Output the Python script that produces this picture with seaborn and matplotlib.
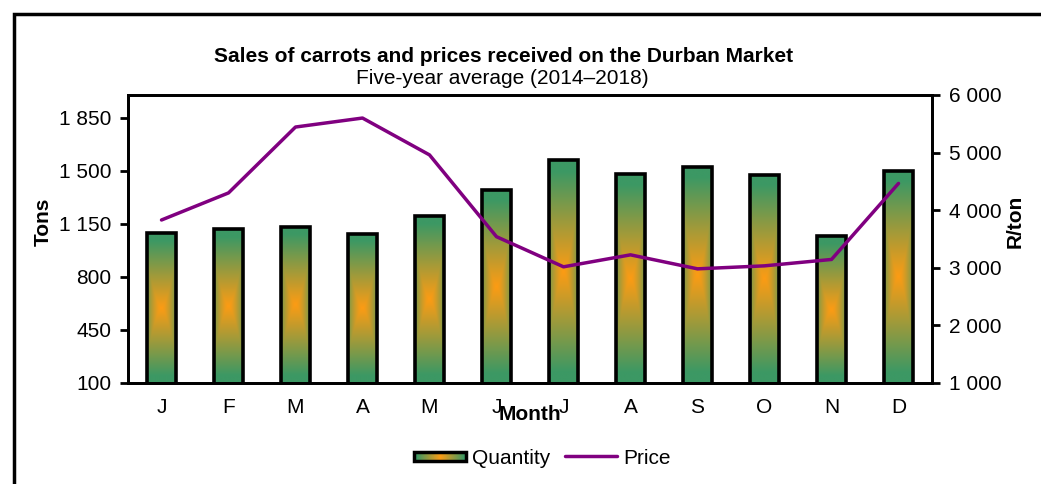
import numpy as np
import pandas as pd
import matplotlib
matplotlib.use("Agg")
import matplotlib.pyplot as plt
import seaborn as sns
from matplotlib.patches import Rectangle
from matplotlib.lines import Line2D
from matplotlib.ticker import FuncFormatter, FixedLocator
from matplotlib.legend_handler import HandlerBase
from matplotlib.image import BboxImage
from matplotlib.transforms import Bbox, TransformedBbox

# ---- data ----
months = ["J", "F", "M", "A", "M", "J", "J", "A", "S", "O", "N", "D"]
quantity = [1088, 1113, 1132, 1084, 1203, 1371, 1568, 1478, 1526, 1474, 1067, 1500]
price = [3830, 4300, 5444, 5600, 4960, 3540, 3017, 3225, 2982, 3034, 3145, 4465]
left_ticks = [100, 450, 800, 1150, 1500, 1850]
right_ticks = [1000, 2000, 3000, 4000, 5000, 6000]

title = "Sales of carrots and prices received on the Durban Market"
subtitle = "Five-year average (2014\u20132018)"

sns.set_style("white")
plt.rcParams["font.family"] = ["Liberation Sans", "DejaVu Sans"]
plt.rcParams["font.size"] = 15
for k in ["text.color", "axes.labelcolor", "xtick.color", "ytick.color"]:
    plt.rcParams[k] = "black"

FS = 15
GREEN = np.array([60, 152, 100]) / 255
ORANGE = np.array([252, 156, 20]) / 255


def bar_gradient(nx=60, ny=300):
    u = np.abs(np.linspace(-1, 1, nx))[None, :]
    v = np.abs(np.linspace(-1, 1, ny))[:, None]
    t = np.maximum(0.62 * u ** 1.5, v)
    t = np.clip(t / 0.9, 0, 1)
    return ORANGE * (1 - t[..., None]) + GREEN * t[..., None]


def legend_gradient(nx=80, ny=10):
    u = np.abs(np.linspace(-1, 1, nx))[None, :].repeat(ny, 0)
    t = np.clip(u / 0.9, 0, 1)
    return ORANGE * (1 - t[..., None]) + GREEN * t[..., None]


fig = plt.figure(figsize=(10.41, 4.84), dpi=100)
ax = fig.add_axes([128 / 1041, 1 - 383 / 484, (932 - 128) / 1041, (383 - 95) / 484])

df = pd.DataFrame({"Month": range(12), "Quantity": quantity})
sns.barplot(data=df, x="Month", y="Quantity", ax=ax, width=0.42,
            color="white", edgecolor="black", linewidth=2.6, zorder=3)

ymin, ymax = 100, 2000
grad = bar_gradient()
for p in ax.patches:
    x0, w, h = p.get_x(), p.get_width(), p.get_height()
    p.set_facecolor("none")
    im = ax.imshow(grad, extent=[x0, x0 + w, ymin, h], aspect="auto",
                   origin="lower", interpolation="bilinear", zorder=2)
    im.set_clip_path(p)

ax.set_xlim(-0.5, 11.5)
ax.set_ylim(ymin, ymax)
ax.set_yticks(left_ticks)
fmt = FuncFormatter(lambda v, p: f"{int(round(v)):,}".replace(",", " "))
ax.yaxis.set_major_formatter(fmt)
ax.set_xticks(range(12))
ax.set_xticklabels(months)
ax.xaxis.set_minor_locator(FixedLocator(np.arange(-0.5, 12, 1.0)))
ax.tick_params(axis="x", which="major", length=0, pad=11, labelsize=FS)
ax.tick_params(axis="x", which="minor", length=6, width=2, direction="out", color="black")
ax.tick_params(axis="y", which="major", length=6, width=2, direction="out", color="black",
               labelsize=FS, pad=6)
for s in ax.spines.values():
    s.set_visible(True)
    s.set_color("black")
    s.set_linewidth(2)

ax.set_xlabel("Month", fontsize=FS, fontweight="bold")
ax.xaxis.set_label_coords(0.5, -0.078)
ax.set_ylabel("Tons", fontsize=FS, fontweight="bold")
ax.yaxis.set_label_coords(-0.094, 0.56)

ax2 = ax.twinx()
sns.lineplot(x=np.arange(12), y=price, ax=ax2, color="#800080", linewidth=2.5, zorder=5)
ax2.set_ylim(1000, 6000)
ax2.set_yticks(right_ticks)
ax2.yaxis.set_major_formatter(fmt)
ax2.tick_params(axis="y", which="major", length=6, width=2, direction="out", color="black",
                labelsize=FS, pad=6)
ax2.set_ylabel("R/ton", fontsize=FS, fontweight="bold")
ax2.yaxis.set_label_coords(1.091, 0.56)
for s in ax2.spines.values():
    s.set_visible(True)
    s.set_color("black")
    s.set_linewidth(2)
ax.set_xlim(-0.5, 11.5)

fig.text(504 / 1041, 1 - 57 / 484, title, ha="center", va="center",
         fontsize=FS, fontweight="bold")
fig.text(502 / 1041, 1 - 78 / 484, subtitle, ha="center", va="center", fontsize=FS)

# outer frame
fig.add_artist(Rectangle((14 / 1041, -0.1), 1.2, 1.1 - 14 / 484, transform=fig.transFigure,
                         fill=False, edgecolor="black", linewidth=2.5))


class GradHandler(HandlerBase):
    def legend_artist(self, legend, orig_handle, fontsize, handlebox):
        x0, y0 = -handlebox.xdescent, -handlebox.ydescent
        w, h = handlebox.width, handlebox.height
        trans = handlebox.get_transform()
        hy = y0 + h * 0.2
        hh = h * 0.6
        bbox = TransformedBbox(Bbox.from_bounds(x0, hy, w, hh), trans)
        img = BboxImage(bbox, interpolation="bilinear")
        img.set_data(legend_gradient())
        handlebox.add_artist(img)
        rect = Rectangle((x0, hy), w, hh, facecolor="none", edgecolor="black",
                         linewidth=2.5, transform=trans)
        handlebox.add_artist(rect)
        return rect


qty_handle = Rectangle((0, 0), 1, 1)
price_handle = Line2D([0], [0], color="#800080", linewidth=2.5)
fig.legend([qty_handle, price_handle], ["Quantity", "Price"],
           handler_map={Rectangle: GradHandler()},
           loc="center", bbox_to_anchor=(542 / 1041, 1 - 458 / 484),
           ncol=2, frameon=False, fontsize=FS, handlelength=2.5,
           handletextpad=0.3, columnspacing=0.7)

fig.savefig("out.png", dpi=100)
